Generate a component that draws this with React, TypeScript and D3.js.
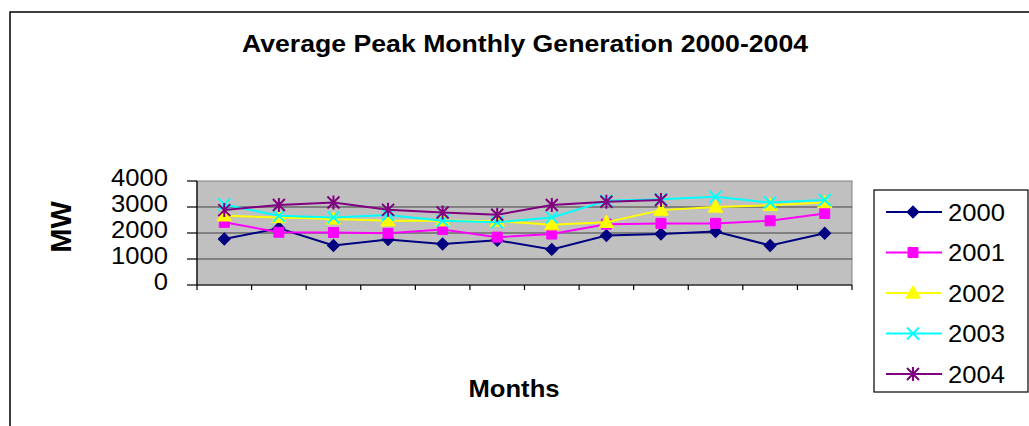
import React from "react";
import * as d3 from "d3";

const months = ["Jan", "Feb", "Mar", "Apr", "May", "Jun", "Jul", "Aug", "Sep", "Oct", "Nov", "Dec"];
const yTicks = [0, 1000, 2000, 3000, 4000];
const seriesNames = ["2000", "2001", "2002", "2003", "2004"];
const values2000 = [1770, 2180, 1520, 1750, 1580, 1720, 1370, 1900, 1960, 2060, 1520, 1990];
const values2001 = [2410, 2030, 2020, 1990, 2130, 1840, 1960, 2340, 2370, 2370, 2470, 2750];
const values2002 = [2660, 2600, 2540, 2470, 2470, 2460, 2320, 2410, 2880, 3000, 3070, 3170];
const values2003 = [3100, 2660, 2600, 2690, 2470, 2410, 2600, 3240, 3300, 3390, 3170, 3270];
const values2004 = [2880, 3080, 3170, 2890, 2790, 2700, 3080, 3200, 3270];
const seriesValues = [values2000, values2001, values2002, values2003, values2004];
const seriesColors = ["#000080", "#ff00ff", "#ffff00", "#00ffff", "#800080"];
const markerTypes = ["diamond", "square", "triangle", "x", "star"];

const W = 1029, H = 426;
const plot = { left: 197, right: 852, top: 181, bottom: 285 };

const x = d3.scaleBand<string>().domain(months).range([plot.left, plot.right]).padding(0);
const y = d3.scaleLinear().domain([0, 4000]).range([plot.bottom, plot.top]);

function Marker({ type, cx, cy, color }: { type: string; cx: number; cy: number; color: string }) {
  if (type === "diamond") {
    const p = d3.symbol().type(d3.symbolSquare).size(72)();
    return <path d={p || ""} transform={`translate(${cx},${cy}) rotate(45)`} fill={color} stroke={color} strokeWidth={1} />;
  }
  if (type === "square") {
    const p = d3.symbol().type(d3.symbolSquare).size(100)();
    return <path d={p || ""} transform={`translate(${cx},${cy})`} fill={color} stroke={color} strokeWidth={1} />;
  }
  if (type === "triangle") {
    const p = d3.symbol().type(d3.symbolTriangle).size(90)();
    return <path d={p || ""} transform={`translate(${cx},${cy + 1})`} fill={color} stroke={color} strokeWidth={1} />;
  }
  if (type === "x") {
    const r = 6;
    return (
      <path d={`M${-r},${-r}L${r},${r}M${-r},${r}L${r},${-r}`} transform={`translate(${cx},${cy})`} stroke={color} strokeWidth={2} fill="none" />
    );
  }
  const r = 6;
  return (
    <path d={`M${-r},${-r}L${r},${r}M${-r},${r}L${r},${-r}M0,${-r - 1}L0,${r + 1}`} transform={`translate(${cx},${cy})`} stroke={color} strokeWidth={2} fill="none" />
  );
}

export default function App() {
  const bw = x.bandwidth();
  const cxOf = (i: number) => (x(months[i]) as number) + bw / 2;
  const line = d3
    .line<number>()
    .x((_, i) => cxOf(i))
    .y((d) => y(d));
  const font = "'Liberation Sans', Arial, sans-serif";
  const sx = 1.09;
  const legendX = 874, legendY = 190, legendW = 154, legendH = 202;
  const legendStep = 40.5;

  return (
    <svg width={W} height={H} style={{ position: "absolute", left: 0, top: 0, background: "#fff" }} fontFamily={font}>
      <rect x={0} y={0} width={W} height={H} fill="#fff" />
      <rect x={10} y={12} width={1040} height={500} fill="none" stroke="#000" strokeWidth={1.5} />

      <text x={0} y={0} transform={`translate(525,51.5) scale(1.12,1)`} textAnchor="middle" fontSize={23.8} fontWeight="bold" fill="#000">
        Average Peak Monthly Generation 2000-2004
      </text>

      {/* plot area */}
      <rect x={plot.left} y={plot.top} width={plot.right - plot.left} height={plot.bottom - plot.top} fill="#c0c0c0" stroke="#808080" strokeWidth={1} />
      {yTicks.slice(1, -1).map((t) => (
        <line key={t} x1={plot.left} x2={plot.right} y1={y(t)} y2={y(t)} stroke="#404040" strokeWidth={1.2} />
      ))}
      {/* axes */}
      <line x1={plot.left} x2={plot.left} y1={plot.top} y2={plot.bottom} stroke="#000" strokeWidth={1.2} />
      <line x1={plot.left} x2={plot.right} y1={plot.bottom} y2={plot.bottom} stroke="#000" strokeWidth={1.2} />
      {yTicks.map((t) => (
        <g key={t}>
          <line x1={plot.left - 10} x2={plot.left} y1={y(t)} y2={y(t)} stroke="#000" strokeWidth={1.2} />
          <text x={0} y={0} transform={`translate(168,${y(t) + 5}) scale(${sx},1)`} textAnchor="end" fontSize={23.5} fill="#000">
            {t}
          </text>
        </g>
      ))}
      {[...months.map((m) => x(m) as number), plot.right].map((xx, i) => (
        <line key={i} x1={xx} x2={xx} y1={plot.bottom} y2={plot.bottom + 5} stroke="#000" strokeWidth={1.2} />
      ))}

      {/* series */}
      {seriesValues.map((vals, si) => (
        <g key={si}>
          <path d={line(vals) || ""} fill="none" stroke={seriesColors[si]} strokeWidth={2} />
          {vals.map((v, i) => (
            <Marker key={i} type={markerTypes[si]} cx={cxOf(i)} cy={y(v)} color={seriesColors[si]} />
          ))}
        </g>
      ))}

      {/* axis titles */}
      <text transform="translate(71,227) rotate(-90)" textAnchor="middle" fontSize={29} fontWeight="bold" fill="#000">
        MW
      </text>
      <text x={0} y={0} transform={`translate(514,396.5) scale(${sx},1)`} textAnchor="middle" fontSize={23.5} fontWeight="bold" fill="#000">
        Months
      </text>

      {/* legend */}
      <rect x={legendX} y={legendY} width={legendW} height={legendH} fill="#fff" stroke="#000" strokeWidth={1.2} />
      {seriesNames.map((name, si) => {
        const cy = 212 + si * legendStep;
        return (
          <g key={name}>
            <line x1={886} x2={942} y1={cy} y2={cy} stroke={seriesColors[si]} strokeWidth={2} />
            <Marker type={markerTypes[si]} cx={913} cy={cy} color={seriesColors[si]} />
            <text x={0} y={0} transform={`translate(948,${cy + 8.5}) scale(${sx},1)`} fontSize={23.5} fill="#000">
              {name}
            </text>
          </g>
        );
      })}
    </svg>
  );
}
